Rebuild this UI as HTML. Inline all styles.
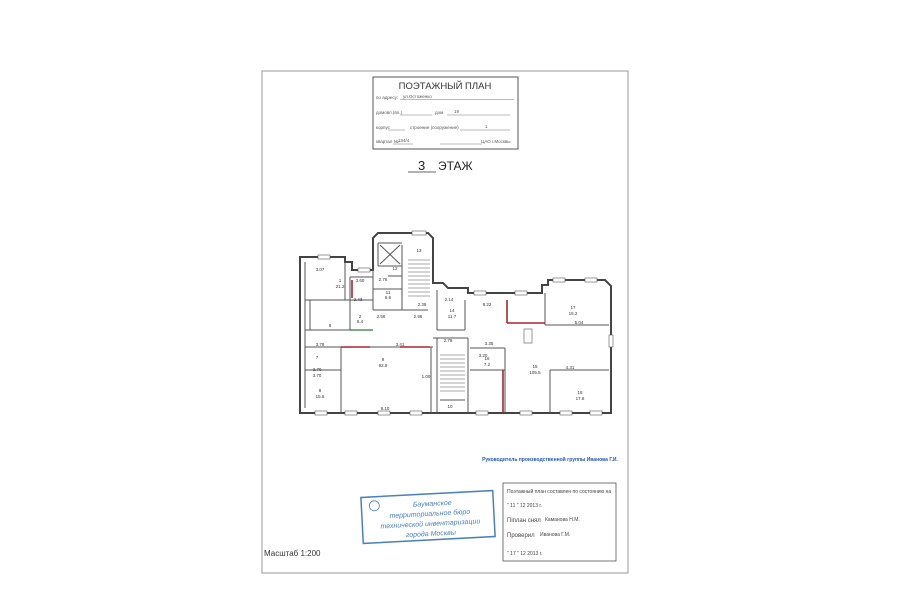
<!DOCTYPE html>
<html><head><meta charset="utf-8"><style>
html,body{margin:0;padding:0;background:#fff;}
svg{display:block;font-family:"Liberation Sans",sans-serif;}
</style></head><body>
<svg width="900" height="604" viewBox="0 0 900 604" xmlns="http://www.w3.org/2000/svg">
<rect x="0" y="0" width="900" height="604" fill="#fff"/>
<rect x="262" y="71" width="366" height="502" fill="none" stroke="#9a9a9a" stroke-width="1"/>
<rect x="373" y="77" width="145" height="72" fill="none" stroke="#555" stroke-width="1"/>
<text x="445" y="89" font-size="9.5" text-anchor="middle" fill="#333">ПОЭТАЖНЫЙ ПЛАН</text>
<g font-size="4.5" fill="#555">
<text x="376" y="99">по адресу:</text><text x="403" y="98">ул.Остоженко</text>
<line x1="400" y1="99.5" x2="514" y2="99.5" stroke="#777" stroke-width="0.5"/>
<text x="376" y="114">домовл.(вл.)</text><text x="435" y="114">дом</text><text x="454" y="113">19</text>
<line x1="400" y1="115" x2="432" y2="115" stroke="#777" stroke-width="0.5"/>
<line x1="447" y1="115" x2="510" y2="115" stroke="#777" stroke-width="0.5"/>
<text x="376" y="129">корпус</text><text x="410" y="129">строение (сооружение)</text><text x="485" y="128">1</text>
<line x1="388" y1="130" x2="405" y2="130" stroke="#777" stroke-width="0.5"/>
<line x1="460" y1="130" x2="510" y2="130" stroke="#777" stroke-width="0.5"/>
<text x="376" y="143">квартал №</text><text x="398" y="142">134/4</text><text x="481" y="143">ЦАО г.Москвы</text>
<line x1="393" y1="144" x2="413" y2="144" stroke="#777" stroke-width="0.5"/>
<line x1="440" y1="144" x2="482" y2="144" stroke="#777" stroke-width="0.5"/>
</g>
<text x="418" y="170" font-size="13" fill="#222">3</text>
<line x1="408" y1="172" x2="436" y2="172" stroke="#333" stroke-width="0.8"/>
<text x="438" y="170" font-size="12" fill="#222">ЭТАЖ</text>
<g fill="none" stroke="#444" stroke-width="2">
<path d="M300,257 L345,257 L345,262 L352,262 L352,270 L373,270 L373,238 L378,233 L428,233 L433,238 L433,283 L443,283 L448,288 L468,288 L468,293 L542,293 L542,285 L548,285 L548,280 L605,280 L611,286 L611,413 L300,413 Z"/>
</g>
<g fill="none" stroke="#555" stroke-width="1">
<line x1="373" y1="270" x2="373" y2="310"/>
<line x1="305" y1="262" x2="305" y2="408"/>
<line x1="345" y1="262" x2="345" y2="300"/>
<line x1="350" y1="277" x2="373" y2="277"/>
<line x1="350" y1="277" x2="350" y2="330"/>
<line x1="373" y1="289" x2="402" y2="289"/>
<line x1="388" y1="276" x2="402" y2="276"/>
<line x1="402" y1="245" x2="402" y2="310"/>
<line x1="378" y1="243" x2="402" y2="243"/>
<line x1="378" y1="243" x2="378" y2="266"/>
<line x1="378" y1="266" x2="402" y2="266"/>
<line x1="380" y1="245" x2="400" y2="264"/><line x1="400" y1="245" x2="380" y2="264"/>
<line x1="373" y1="310" x2="428" y2="310"/>
<line x1="305" y1="300" x2="373" y2="300"/>
<line x1="310" y1="300" x2="310" y2="330"/>
<line x1="305" y1="330" x2="350" y2="330"/>
<line x1="305" y1="347" x2="433" y2="347"/>
<line x1="305" y1="370" x2="341" y2="370"/>
<line x1="341" y1="347" x2="341" y2="413"/>
<line x1="431" y1="347" x2="431" y2="413"/>
<line x1="437" y1="290" x2="437" y2="330"/>
<line x1="437" y1="330" x2="465" y2="330"/>
<line x1="465" y1="300" x2="465" y2="330"/>
<line x1="433" y1="338" x2="468" y2="338"/>
<line x1="437" y1="338" x2="437" y2="413"/>
<line x1="468" y1="338" x2="468" y2="413"/>
<line x1="470" y1="370" x2="505" y2="370"/>
<line x1="505" y1="348" x2="505" y2="413"/>
<line x1="470" y1="348" x2="505" y2="348"/>
<line x1="545" y1="293" x2="545" y2="325"/>
<line x1="545" y1="325" x2="609" y2="325"/>
<line x1="550" y1="370" x2="609" y2="370"/>
<line x1="550" y1="370" x2="550" y2="413"/>
<line x1="440" y1="400" x2="465" y2="400"/>
</g>
<g stroke="#555" stroke-width="0.6">
<path d="M408,260 h22 M408,264 h22 M408,268 h22 M408,272 h22 M408,276 h22 M408,280 h22 M408,284 h22 M408,288 h22 M408,292 h22 M408,296 h22"/>
<path d="M440,355 h25 M440,359 h25 M440,363 h25 M440,367 h25 M440,371 h25 M440,375 h25 M440,379 h25 M440,383 h25 M440,387 h25 M440,391 h25"/>
</g>
<g stroke="#b02030" stroke-width="1.6">
<line x1="352" y1="280" x2="352" y2="298"/>
<line x1="341" y1="347" x2="370" y2="347"/>
<line x1="400" y1="347" x2="430" y2="347"/>
<line x1="507" y1="300" x2="507" y2="323"/>
<line x1="507" y1="323" x2="545" y2="323"/>
<line x1="503" y1="370" x2="503" y2="413"/>
</g>
<line x1="350" y1="330" x2="373" y2="330" stroke="#2a7a40" stroke-width="1.2"/>
<g fill="#fff" stroke="#555" stroke-width="0.6">
<rect x="318" y="255" width="12" height="4"/><rect x="358" y="268" width="12" height="4"/>
<rect x="412" y="231" width="14" height="4"/><rect x="474" y="291" width="12" height="4"/>
<rect x="515" y="291" width="12" height="4"/><rect x="553" y="278" width="12" height="4"/>
<rect x="585" y="278" width="12" height="4"/><rect x="609" y="335" width="4" height="12"/>
<rect x="315" y="411" width="12" height="4"/><rect x="345" y="411" width="12" height="4"/>
<rect x="378" y="411" width="12" height="4"/><rect x="410" y="411" width="12" height="4"/>
<rect x="476" y="411" width="12" height="4"/><rect x="520" y="411" width="12" height="4"/>
<rect x="560" y="411" width="12" height="4"/><rect x="590" y="411" width="12" height="4"/>
<rect x="524" y="329" width="8" height="14"/>
</g>
<g font-size="4.5" fill="#333" text-anchor="middle">
<text x="320" y="271">3.07</text><text x="340" y="282">1</text><text x="340" y="288">21.2</text>
<text x="360" y="282">3.60</text><text x="383" y="281">2.76</text><text x="395" y="270">12</text>
<text x="388" y="294">11</text><text x="388" y="299">6.6</text><text x="358" y="301">2.43</text>
<text x="422" y="306">2.39</text><text x="360" y="318">2</text><text x="360" y="323">6.4</text>
<text x="330" y="327">6</text><text x="381" y="318">2.56</text><text x="418" y="318">2.96</text>
<text x="419" y="252">13</text><text x="320" y="346">3.78</text><text x="400" y="346">3.41</text>
<text x="317" y="359">7</text><text x="317" y="371">3.70</text><text x="317" y="377">3.70</text>
<text x="383" y="361">9</text><text x="383" y="367">92.9</text><text x="320" y="392">8</text>
<text x="320" y="398">15.6</text><text x="385" y="410">9.10</text><text x="426" y="378">1.00</text>
<text x="449" y="301">2.14</text><text x="452" y="312">14</text><text x="452" y="318">11.7</text>
<text x="448" y="342">2.78</text><text x="450" y="408">10</text><text x="489" y="345">3.35</text>
<text x="483" y="357">3.20</text><text x="487" y="360">16</text><text x="487" y="366">7.2</text>
<text x="487" y="306">8.22</text><text x="573" y="309">17</text><text x="573" y="315">15.2</text>
<text x="579" y="324">5.04</text><text x="570" y="369">4.31</text>
<text x="535" y="368">15</text><text x="535" y="374">105.5</text>
<text x="580" y="394">18</text><text x="580" y="400">17.8</text>
</g>
<text x="550" y="461" font-size="5" fill="#2255bb" text-anchor="middle" font-weight="bold">Руководитель производственной группы Иванова Г.И.</text>
<g transform="rotate(-3 428 517)">
<rect x="362" y="494" width="132" height="46" fill="none" stroke="#4a80c0" stroke-width="1.5"/>
<circle cx="375" cy="503" r="5" fill="none" stroke="#4a80c0" stroke-width="0.8"/>
<g font-size="7" fill="#4a80c0" text-anchor="middle" font-style="italic">
<text x="433" y="506">Бауманское</text><text x="430" y="516">территориальное бюро</text>
<text x="430" y="526">технической инвентаризации</text><text x="430" y="536">города Москвы</text></g>
</g>
<rect x="503" y="483" width="113" height="78" fill="none" stroke="#555" stroke-width="0.8"/>
<g font-size="5" fill="#444">
<text x="507" y="493">Поэтажный план составлен по состоянию на</text>
<text x="507" y="507">"  11  "        12               2013   г.</text>
<text x="507" y="522" font-size="6">Пiплан снял</text><text x="545" y="521">Каманова Н.М.</text>
<text x="507" y="537" font-size="6">Проверил</text><text x="540" y="536">Иванова Г.М.</text>
<text x="507" y="555">"  17  "        12               2013   г.</text>
</g>
<text x="264" y="556" font-size="8" fill="#333">Масштаб 1:200</text>
</svg>
</body></html>
